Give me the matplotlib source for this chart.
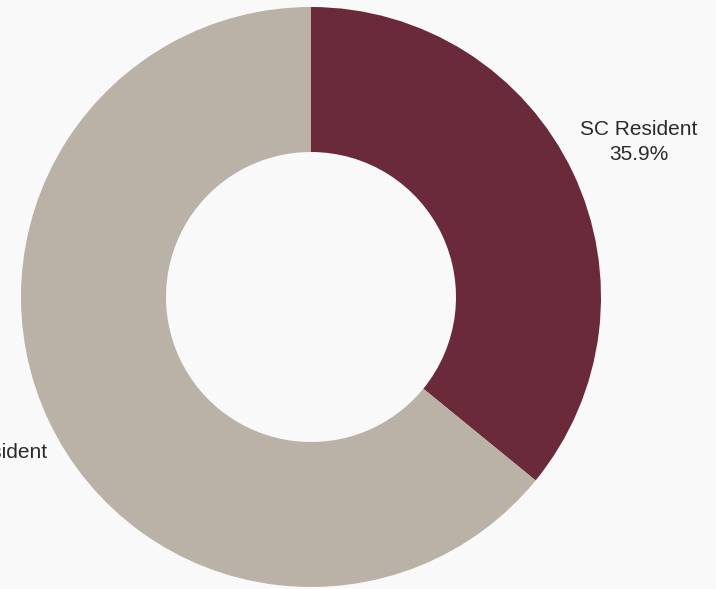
import matplotlib.pyplot as plt
import numpy as np

# data
categories = ["SC Resident", "Non-Resident"]
shares = [35.9, 64.1]
colors = ["#6a2a3a", "#bab1a7"]
show_pct = [True, False]

fig = plt.figure(figsize=(7.16, 5.89), dpi=100)
fig.patch.set_facecolor("#f9f9f9")
ax = fig.add_axes([0, 0, 1, 1])
ax.set_facecolor("#f9f9f9")

radius = 290
wedges, _ = ax.pie(shares, colors=colors, startangle=90, counterclock=False,
                   radius=radius, wedgeprops=dict(width=145, linewidth=0))

# labels outside the ring
for w, cat, val, pct in zip(wedges, categories, shares, show_pct):
    mid = np.deg2rad((w.theta1 + w.theta2) / 2.0)
    r = radius * 1.25
    txt = f"{cat}\n{val:.1f}%" if pct else cat
    ax.text(r * np.cos(mid), r * np.sin(mid), txt, ha="center", va="center",
            fontsize=15, color="#2a2a2a", linespacing=1.4, family="Liberation Sans")

ax.set_xlim(-311, 405)
ax.set_ylim(-292, 297)
ax.set_aspect("equal")
ax.axis("off")

fig.savefig("out.png", dpi=100, facecolor=fig.get_facecolor())
